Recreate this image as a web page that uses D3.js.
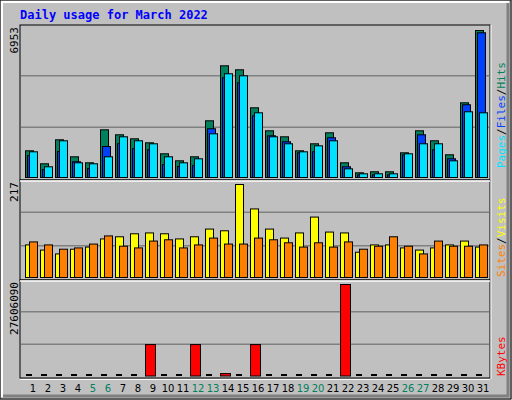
<!DOCTYPE html>
<html><head><meta charset="utf-8">
<script src="https://cdn.jsdelivr.net/npm/d3@7"></script>
<style>body{margin:0;background:#fff}</style>
</head><body>
<script>
const days = d3.range(1, 32);
const weekend = [5, 6, 12, 13, 19, 20, 26, 27];
const hits = [1263,648,1783,979,695,2256,2020,1830,1641,1121,790,979,2682,5283,5094,3297,2209,1925,1263,1594,2114,695,222,270,270,1168,2209,1736,1074,3533,6953];
const files = [1040,378,1230,743,426,1466,1594,1372,1310,615,520,568,2303,4716,4479,2918,1972,1689,1168,1215,1878,506,128,128,128,1074,2020,1310,885,3439,6844];
const pages = [1215,506,1736,695,648,979,1925,1736,1594,979,695,885,2067,4905,4810,3060,1925,1594,1215,1499,1736,411,175,175,175,1121,1594,1594,790,3108,3060];
const visits = [76,64,55,66,71,90,95,102,104,102,90,95,113,109,217,160,113,92,104,141,106,104,59,76,76,69,64,69,76,85,71];
const sites = [83,76,66,69,78,97,73,69,85,88,69,76,92,78,78,92,88,81,71,81,71,83,66,73,95,73,55,85,73,73,76];
const kbytes = [0,0,0,0,0,0,0,0,9480000,0,0,9480000,0,725000,0,9480000,0,0,0,0,0,27606090,0,0,0,0,0,0,0,0,0];

const W = 512, H = 400;
const svg = d3.select("body").append("svg").attr("width", W).attr("height", H)
  .style("font-family", "'DejaVu Sans Mono', monospace");

// 3d frame
svg.append("rect").attr("width", W).attr("height", H).attr("fill", "#c0c0c0");
svg.append("path").attr("d", "M0,0H511V399H0Z").attr("fill", "none").attr("stroke", "#000");
svg.append("path").attr("d", "M2,397V2H509").attr("fill", "none").attr("stroke", "#fff").attr("stroke-width", 2);
svg.append("path").attr("d", "M3,396H508V3").attr("fill", "none").attr("stroke", "#808080").attr("stroke-width", 3);

svg.append("text").attr("x", 20).attr("y", 19).text("Daily usage for March 2022")
  .attr("fill", "#0000ff").attr("font-weight", "bold").attr("font-size", 12);

const x = d3.scaleLinear().domain([1, 31]).range([25, 475]);

const panels = [
  {top: 25, bot: 180, base: 177, maxY: 30, max: 6953},
  {top: 180, bot: 280, base: 277, maxY: 184, max: 217},
  {top: 280, bot: 378, base: 375.5, maxY: 284, max: 27606090}
];

panels.forEach(p => {
  p.y = d3.scaleLinear().domain([0, p.max]).range([p.base, p.maxY]);
  const g = svg.append("g");
  g.append("rect").attr("x", 20).attr("y", p.top).attr("width", 470).attr("height", p.bot - p.top)
    .attr("fill", "#c0c0c0").attr("stroke", "#000");
  const h = p.bot - p.top;
  [1 / 3, 2 / 3].forEach(f => {
    g.append("line").attr("x1", 21).attr("x2", 489)
      .attr("y1", p.bot - h * f - 1).attr("y2", p.bot - h * f - 1)
      .attr("stroke", "#808080").attr("stroke-width", 1.5);
  });
  g.append("text").attr("transform", `translate(18,${p.top + 2}) rotate(-90)`)
    .attr("text-anchor", "end").attr("font-size", 11).attr("fill", "#000")
    .text(d3.format("d")(p.max));
});
// white separator lines
[180, 280].forEach(yy => svg.append("line").attr("x1", 20).attr("x2", 490)
  .attr("y1", yy + 1).attr("y2", yy + 1).attr("stroke", "#fff").attr("stroke-width", 1.5));
svg.append("line").attr("x1", 20).attr("x2", 490).attr("y1", 379.5).attr("y2", 379.5).attr("stroke", "#fff");
svg.append("line").attr("x1", 491).attr("x2", 491).attr("y1", 25).attr("y2", 379).attr("stroke", "#fff");

function bars(p, vals, dx, w, color) {
  svg.append("g").selectAll("rect").data(vals).join("rect")
    .attr("x", (d, i) => x(days[i]) + dx + 0.5)
    .attr("y", d => p.y(d) + 0.5)
    .attr("width", w)
    .attr("height", d => Math.max(0, p.base - p.y(d)))
    .attr("fill", color).attr("stroke", "#000");
}
bars(panels[0], hits, 0, 8, "#00805c");
bars(panels[0], files, 2, 8, "#0040ff");
bars(panels[0], pages, 4, 8, "#00e0ff");
bars(panels[1], visits, 0, 8, "#ffff00");
bars(panels[1], sites, 4, 8, "#ff8000");
bars(panels[2], kbytes.map(d => d || null).map(d => d || 0), 0, 10, "#ff0000");
// zero days drawn as dashes
svg.append("g").selectAll("rect").data(days.filter((d, i) => !kbytes[i])).join("rect")
  .attr("x", d => x(d) + 1).attr("y", 374).attr("width", 6).attr("height", 2).attr("fill", "#000");

svg.append("g").selectAll("text").data(days).join("text")
  .attr("x", d => x(d) + 8).attr("y", 392).attr("text-anchor", "middle")
  .attr("font-family", "'DejaVu Sans', sans-serif").attr("font-size", 10)
  .attr("fill", d => weekend.includes(d) ? "#00805c" : "#000").text(d => d);

function sideLabel(yEnd, parts) {
  const t = svg.append("text").attr("transform", `translate(505,${yEnd}) rotate(-90)`)
    .attr("font-size", 11);
  parts.forEach(([s, c]) => t.append("tspan").attr("fill", c).text(s));
}
sideLabel(168, [["Pages", "#00e0ff"], ["/", "#000"], ["Files", "#0040ff"], ["/", "#000"], ["Hits", "#00805c"]]);
sideLabel(277, [["Sites", "#ff8000"], ["/", "#000"], ["Visits", "#ffff00"]]);
sideLabel(376, [["KBytes", "#ff0000"]]);
</script>
</body></html>
